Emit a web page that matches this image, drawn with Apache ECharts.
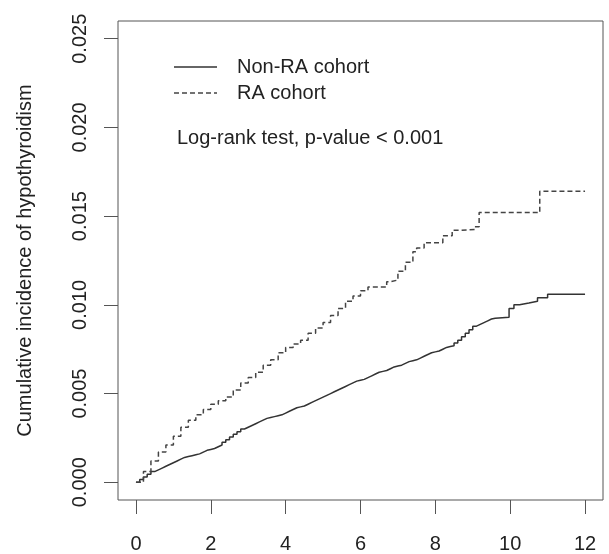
<!DOCTYPE html>
<html>
<head>
<meta charset="utf-8">
<script src="https://cdn.jsdelivr.net/npm/echarts@6/dist/echarts.min.js"></script>
<style>
html, body { margin: 0; padding: 0; background: #fff; }
#chart { width: 609px; height: 554px; }
</style>
</head>
<body>
<div id="chart"></div>
<script>
// 累积发病率曲线 (step)
var xTicks = [0, 2, 4, 6, 8, 10, 12];
var yTicks = [0, 0.005, 0.010, 0.015, 0.020, 0.025];
var yTickLabels = ['0.000', '0.005', '0.010', '0.015', '0.020', '0.025'];

// Non-RA cohort
var nonRaTime = [0, 0.1, 0.2, 0.3, 0.4, 0.5, 0.6, 0.7, 0.8, 0.9, 1.0, 1.1, 1.2, 1.3, 1.4, 1.5,
    1.6, 1.7, 1.8, 1.9, 2.0, 2.1, 2.2, 2.3, 2.4, 2.5, 2.6, 2.7, 2.8, 2.9, 3.0, 3.1, 3.2, 3.3,
    3.4, 3.5, 3.6, 3.7, 3.8, 3.9, 4.0, 4.1, 4.2, 4.3, 4.4, 4.5, 4.6, 4.7, 4.8, 4.9, 5.0, 5.1,
    5.2, 5.3, 5.4, 5.5, 5.6, 5.7, 5.8, 5.9, 6.0, 6.1, 6.2, 6.3, 6.4, 6.5, 6.6, 6.7, 6.8, 6.9,
    7.0, 7.1, 7.2, 7.3, 7.4, 7.5, 7.6, 7.7, 7.8, 7.9, 8.0, 8.1, 8.2, 8.3, 8.4, 8.5, 8.6, 8.7,
    8.8, 8.9, 9.0, 9.1, 9.2, 9.3, 9.4, 9.5, 9.6, 9.97, 10.1, 10.25, 10.5, 10.73, 11.0, 12.0];
var nonRaValue = [0, 0.00015, 0.0003, 0.00045, 0.0006, 0.0007, 0.0008, 0.0009, 0.0010, 0.0011,
    0.0012, 0.0013, 0.0014, 0.00145, 0.0015, 0.00155, 0.0016, 0.0017, 0.0018, 0.00185, 0.0019,
    0.0020, 0.0021, 0.00225, 0.0024, 0.00255, 0.0027, 0.00285, 0.0030, 0.0031, 0.0032, 0.0033,
    0.0034, 0.0035, 0.0036, 0.00365, 0.0037, 0.00375, 0.0038, 0.0039, 0.0040, 0.0041, 0.0042,
    0.00425, 0.0043, 0.0044, 0.0045, 0.0046, 0.0047, 0.0048, 0.0049, 0.0050, 0.0051, 0.0052,
    0.0053, 0.0054, 0.0055, 0.0056, 0.0057, 0.00575, 0.0058, 0.0059, 0.0060, 0.0061, 0.0062,
    0.00625, 0.0063, 0.0064, 0.0065, 0.00655, 0.0066, 0.0067, 0.0068, 0.00685, 0.0069, 0.0070,
    0.0071, 0.0072, 0.0073, 0.00735, 0.0074, 0.0075, 0.0076, 0.00765, 0.0077, 0.00785, 0.0080,
    0.0082, 0.0084, 0.0086, 0.0088, 0.0089, 0.0090, 0.0091, 0.0092, 0.00925, 0.0093, 0.0098,
    0.0100, 0.0101, 0.0102, 0.0104, 0.0106, 0.0106];

// RA cohort
var raTime = [0, 0.2, 0.4, 0.6, 0.8, 1.0, 1.2, 1.4, 1.6, 1.8, 2.0, 2.2, 2.4, 2.6, 2.8, 3.0,
    3.2, 3.4, 3.6, 3.8, 4.0, 4.2, 4.4, 4.6, 4.8, 5.0, 5.2, 5.4, 5.6, 5.8, 6.0, 6.2, 6.7, 6.8,
    7.0, 7.2, 7.4, 7.5, 7.7, 8.2, 8.45, 8.7, 9.05, 9.17, 10.79, 12.0];
var raValue = [0, 0.0006, 0.0012, 0.0017, 0.0021, 0.0026, 0.0031, 0.0035, 0.0038, 0.0041,
    0.0044, 0.0046, 0.0048, 0.0052, 0.0056, 0.0059, 0.0062, 0.0066, 0.0069, 0.0073, 0.0076,
    0.0078, 0.0080, 0.0084, 0.0087, 0.0090, 0.0094, 0.0098, 0.0102, 0.0105, 0.0108, 0.0110,
    0.0113, 0.0114, 0.0119, 0.0124, 0.0130, 0.0132, 0.0135, 0.0139, 0.0142, 0.01425, 0.0144,
    0.0152, 0.0164, 0.0164];

function pairs(t, v) {
    var out = [];
    for (var i = 0; i < t.length; i++) out.push([t[i], v[i]]);
    return out;
}

var font = 'Liberation Sans, Arial, sans-serif';
var textColor = '#222';

var myChart = echarts.init(document.getElementById('chart'));
var option = {
    animation: false,
    textStyle: { fontFamily: font },
    grid: {
        left: 118, right: 6, top: 21, bottom: 53,
        show: true, borderColor: '#555', borderWidth: 1, backgroundColor: 'transparent'
    },
    title: {
        text: 'Log-rank test, p-value < 0.001',
        left: 177, top: 128, padding: 0,
        textStyle: { fontSize: 20, fontWeight: 'normal', color: textColor, fontFamily: font }
    },
    legend: {
        orient: 'vertical',
        left: 174, top: 57,
        padding: 0,
        itemWidth: 43, itemHeight: 1.5, itemGap: 6,
        textStyle: { fontSize: 20, color: textColor, fontFamily: font, padding: [0, 0, 0, 15] },
        data: [
            { name: 'Non-RA cohort', icon: 'path://M0,0H43V1.5H0Z' },
            { name: 'RA cohort', icon: 'path://M0,0h5v1.5h-5z M8,0h5v1.5h-5z M16,0h5v1.5h-5z M24,0h5v1.5h-5z M32,0h5v1.5h-5z M40,0h3v1.5h-3z' }
        ]
    },
    xAxis: {
        type: 'value',
        min: -0.48, max: 12.48,
        splitLine: { show: false },
        axisLine: { show: false, onZero: false },
        axisTick: { show: true, length: 14, customValues: xTicks, lineStyle: { color: '#555' } },
        axisLabel: {
            customValues: xTicks, fontSize: 20, color: textColor, margin: 34, fontFamily: font,
            showMinLabel: true, showMaxLabel: true
        }
    },
    yAxis: {
        type: 'value',
        min: -0.001, max: 0.026,
        name: 'Cumulative incidence of hypothyroidism',
        nameLocation: 'middle', nameGap: 83, nameRotate: 90,
        nameTextStyle: { fontSize: 20, color: textColor, fontFamily: font },
        splitLine: { show: false },
        axisLine: { show: false, onZero: false },
        axisTick: { show: true, length: 14, customValues: yTicks, lineStyle: { color: '#555' } },
        axisLabel: {
            customValues: yTicks, rotate: 90, fontSize: 20, color: textColor, margin: 28,
            fontFamily: font,
            formatter: function (v) {
                var i = yTicks.indexOf(v);
                return i >= 0 ? yTickLabels[i] : '';
            }
        }
    },
    series: [
        {
            name: 'Non-RA cohort',
            type: 'line',
            step: 'end',
            symbol: 'none',
            data: pairs(nonRaTime, nonRaValue),
            lineStyle: { color: '#333', width: 1.5, type: 'solid' },
            itemStyle: { color: '#333' }
        },
        {
            name: 'RA cohort',
            type: 'line',
            step: 'end',
            symbol: 'none',
            data: pairs(raTime, raValue),
            lineStyle: { color: '#444', width: 1.5, type: [5, 3] },
            itemStyle: { color: '#444' }
        }
    ]
};
myChart.setOption(option);
</script>
</body>
</html>
